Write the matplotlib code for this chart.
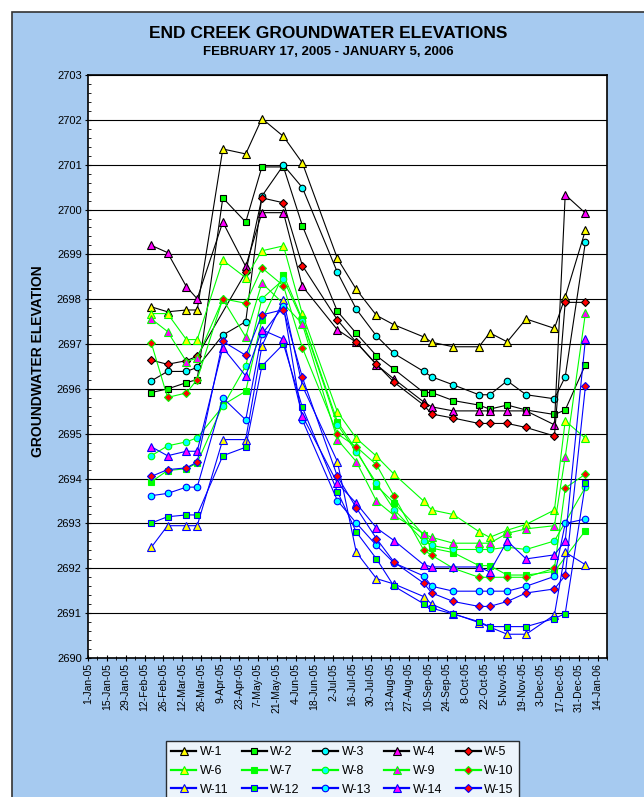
import numpy as np
import matplotlib
matplotlib.use("Agg")
import matplotlib.pyplot as plt
import matplotlib.dates as mdates
from matplotlib.patches import Rectangle
import datetime as dt

plt.rcParams['font.family'] = ['Liberation Sans', 'DejaVu Sans']

dates = ["2005-02-17", "2005-03-01", "2005-03-15", "2005-03-23", "2005-04-11", "2005-04-28",
         "2005-05-10", "2005-05-26", "2005-06-09", "2005-07-05", "2005-07-19", "2005-08-03",
         "2005-08-16", "2005-09-07", "2005-09-13", "2005-09-29", "2005-10-18", "2005-10-26",
         "2005-11-08", "2005-11-22", "2005-12-13", "2005-12-21", "2006-01-05"]

nan = np.nan
w1 = [2697.83, 2697.72, 2697.76, 2697.76, 2701.35, 2701.24, 2702.03, 2701.63, 2701.04, 2698.91, 2698.22, 2697.64,
      2697.43, 2697.16, 2697.04, 2696.94, 2696.94, 2697.25, 2697.05, 2697.56, 2697.35, 2698.05, 2699.54]
w2 = [2695.92, 2696.00, 2696.14, 2696.21, 2700.26, 2699.72, 2700.95, 2700.95, 2699.64, 2697.73, 2697.24, 2696.74,
      2696.44, 2695.92, 2695.92, 2695.74, 2695.64, 2695.55, 2695.64, 2695.53, 2695.43, 2695.53, 2696.54]
w3 = [2696.18, 2696.39, 2696.39, 2696.48, 2697.20, 2697.50, 2700.30, 2700.99, 2700.49, 2698.60, 2697.78, 2697.18,
      2696.79, 2696.39, 2696.27, 2696.09, 2695.87, 2695.87, 2696.18, 2695.87, 2695.78, 2696.27, 2699.28]
w4 = [2699.20, 2699.04, 2698.28, 2698.01, 2699.72, 2698.73, 2699.93, 2699.93, 2698.29, 2697.32, 2697.04, 2696.54,
      2696.22, 2695.71, 2695.60, 2695.51, 2695.51, 2695.51, 2695.51, 2695.51, 2695.20, 2700.33, 2699.92]
w5 = [2696.64, 2696.55, 2696.63, 2696.73, nan, 2698.60, 2700.26, 2700.15, 2698.75, 2697.54, 2697.04, 2696.55,
      2696.15, 2695.64, 2695.44, 2695.35, 2695.23, 2695.23, 2695.23, 2695.14, 2694.95, 2697.93, 2697.93]
w6 = [2697.68, 2697.68, 2697.10, 2697.10, 2698.87, 2698.48, 2699.08, 2699.19, 2697.67, 2695.49, 2694.90, 2694.50,
      2694.10, 2693.50, 2693.30, 2693.20, 2692.82, 2692.69, 2692.85, 2692.98, 2693.30, 2695.29, 2694.90]
w7 = [2693.93, 2694.18, 2694.22, 2694.35, 2695.64, 2695.95, 2697.54, 2698.55, 2697.55, 2695.27, 2694.64, 2693.84,
      2693.46, 2692.75, 2692.45, 2692.35, 2692.06, 2692.06, 2691.85, 2691.85, 2691.93, nan, 2692.84]
w8 = [2694.51, 2694.73, 2694.82, 2694.91, 2695.61, 2696.51, 2698.01, 2698.44, 2697.52, 2695.20, 2694.60, 2693.90,
      2693.31, 2692.61, 2692.51, 2692.42, 2692.42, 2692.42, 2692.47, 2692.42, 2692.61, nan, 2693.81]
w9 = [2697.56, 2697.28, 2696.61, 2696.69, 2698.00, 2697.16, 2698.36, 2697.90, 2697.45, 2694.87, 2694.38, 2693.50,
      2693.18, 2692.77, 2692.69, 2692.56, 2692.56, 2692.56, 2692.78, 2692.88, 2692.95, 2694.48, 2697.69]
w10 = [2697.02, 2695.81, 2695.91, 2696.21, 2698.01, 2697.91, 2698.70, 2698.30, 2696.92, 2695.00, 2694.71, 2694.31,
       2693.61, 2692.41, 2692.29, 2692.00, 2691.80, 2691.80, 2691.80, 2691.80, 2692.00, 2693.79, 2694.10]
w11 = [2692.47, 2692.95, 2692.95, 2692.95, 2694.87, 2694.87, 2696.96, 2697.98, 2696.07, 2694.38, 2692.36, 2691.77,
       2691.65, 2691.37, 2691.20, 2690.99, 2690.79, 2690.69, 2690.53, 2690.53, 2690.96, 2692.36, 2692.08]
w12 = [2693.01, 2693.15, 2693.19, 2693.19, 2694.51, 2694.70, 2696.51, 2697.00, 2695.59, 2693.71, 2692.81, 2692.21,
       2691.60, 2691.21, 2691.11, 2690.98, 2690.81, 2690.70, 2690.70, 2690.70, 2690.88, 2690.99, 2693.90]
w13 = [2693.62, 2693.67, 2693.81, 2693.81, 2695.80, 2695.31, 2697.22, 2697.84, 2695.31, 2693.51, 2693.01, 2692.51,
       2692.12, 2691.83, 2691.60, 2691.49, 2691.49, 2691.49, 2691.49, 2691.60, 2691.82, 2693.00, 2693.10]
w14 = [2694.71, 2694.51, 2694.61, 2694.61, 2696.92, 2696.29, 2697.32, 2697.11, 2695.40, 2693.90, 2693.45, 2692.90,
       2692.62, 2692.08, 2692.03, 2692.03, 2692.03, 2691.92, 2692.61, 2692.21, 2692.30, 2692.61, 2697.11]
w15 = [2694.05, 2694.20, 2694.24, 2694.37, 2697.06, 2696.75, 2697.65, 2697.77, 2696.26, 2694.05, 2693.35, 2692.66,
       2692.14, 2691.67, 2691.45, 2691.26, 2691.15, 2691.15, 2691.26, 2691.45, 2691.54, 2691.84, 2696.06]

series_names = ["W-1", "W-2", "W-3", "W-4", "W-5", "W-6", "W-7", "W-8", "W-9", "W-10",
                "W-11", "W-12", "W-13", "W-14", "W-15"]
series_values = [w1, w2, w3, w4, w5, w6, w7, w8, w9, w10, w11, w12, w13, w14, w15]

tick_start = "2005-01-01"
tick_end = "2006-01-14"

# styles
line_colors = ["#000000"] * 5 + ["#00FF00"] * 5 + ["#0000FF"] * 5
marker_shapes = ["^", "s", "o", "^", "D"] * 3
marker_fills = ["#FFFF00", "#00FF00", "#00FFFF", "#FF00FF", "#FF0000"] * 3
marker_sizes = {"^": 5.8, "s": 4.5, "o": 4.7, "D": 4.0}

W, H = 644, 797
fig = plt.figure(figsize=(W / 100, H / 100), dpi=100, facecolor="white")

bg = Rectangle((12 / W, -0.05), 1.0, 1 - 12 / H + 0.05, transform=fig.transFigure,
               facecolor="#A6CAF0", edgecolor="#333333", linewidth=1.2, zorder=-10)
fig.add_artist(bg)

ax = fig.add_axes([88 / W, 1 - 658 / H, (607 - 88) / W, (658 - 75) / H])
ax.set_facecolor("white")
ax.set_zorder(1)

x = mdates.date2num([dt.datetime.strptime(d, "%Y-%m-%d") for d in dates])

handles = []
for name, vals, lc, mk, mf in zip(series_names, series_values, line_colors, marker_shapes, marker_fills):
    v = np.array(vals, dtype=float)
    ok = ~np.isnan(v)
    h, = ax.plot(x[ok], v[ok], color=lc, linewidth=0.8, marker=mk, markersize=marker_sizes[mk],
                 markerfacecolor=mf, markeredgecolor=lc, markeredgewidth=0.8, label=name, zorder=3)
    handles.append(h)

x0 = mdates.date2num(dt.datetime.strptime(tick_start, "%Y-%m-%d"))
x1 = mdates.date2num(dt.datetime.strptime(tick_end, "%Y-%m-%d"))
ax.set_xlim(x0, x1 + 7)
ax.set_ylim(2690, 2703)

major = np.arange(x0, x1 + 0.5, 14)
minor = np.arange(x0, x1 + 7.5, 7)
ax.set_xticks(major)
ax.set_xticks(minor, minor=True)
ax.set_xticklabels([f"{mdates.num2date(m).day}-{mdates.num2date(m).strftime('%b-%y')}" for m in major],
                   rotation=90, fontsize=7.5)
ax.set_yticks(np.arange(2690, 2704, 1))
ax.set_yticks(np.arange(2690, 2703.01, 0.2), minor=True)
ax.set_yticklabels([str(v) for v in range(2690, 2704)], fontsize=8)
ax.tick_params(axis="both", which="major", direction="inout", length=5, width=0.8, color="black")
ax.tick_params(axis="y", which="minor", direction="in", length=2.5, width=0.6)
ax.tick_params(axis="x", which="minor", direction="inout", length=3, width=0.6)
ax.tick_params(axis="x", which="major", pad=1)
ax.tick_params(axis="y", which="major", pad=2)
ax.yaxis.grid(True, which="major", color="black", linewidth=0.8)
ax.set_axisbelow(True)
for s in ax.spines.values():
    s.set_linewidth(1.2)
    s.set_color("black")

fig.text(38 / W, 1 - 361 / H, "GROUNDWATER ELEVATION", rotation=90, fontsize=10, fontweight="bold",
         ha="center", va="center")
fig.text(328 / W, 1 - 33 / H, "END CREEK GROUNDWATER ELEVATIONS", fontsize=12.5, fontweight="bold",
         ha="center", va="center")
fig.text(328 / W, 1 - 52 / H, "FEBRUARY 17, 2005 - JANUARY 5, 2006", fontsize=9.5, fontweight="bold",
         ha="center", va="center")

order = [0, 5, 10, 1, 6, 11, 2, 7, 12, 3, 8, 13, 4, 9, 14]
leg = fig.legend([handles[i] for i in order], [series_names[i] for i in order], ncol=5,
                 loc="upper left", bbox_to_anchor=(166 / W, 1 - 741 / H), frameon=True, fancybox=False,
                 fontsize=9, handlelength=2.0, handletextpad=0.3, columnspacing=1.05, labelspacing=0.55,
                 borderpad=0.4, borderaxespad=0)
leg.get_frame().set_edgecolor("black")
leg.get_frame().set_linewidth(1.0)
leg.get_frame().set_facecolor("white")
for lh in leg.get_lines():
    lh.set_linewidth(1.6)

fig.savefig("out.png", dpi=100, facecolor=fig.get_facecolor())
